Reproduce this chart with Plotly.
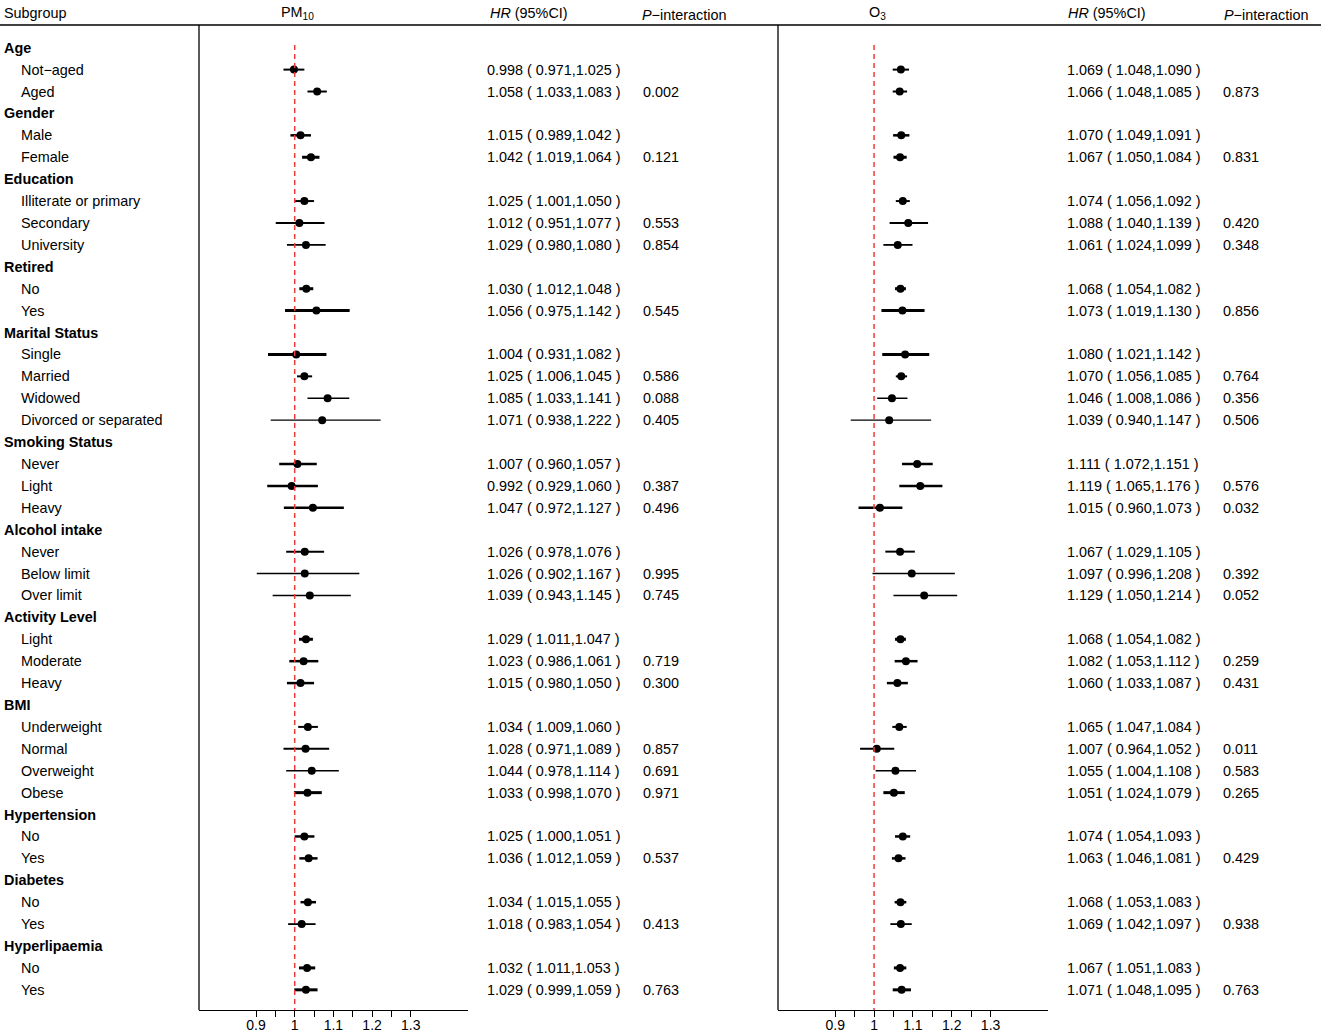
import plotly.graph_objects as go

# ---------------- data ----------------
subgroups = [
    "Age", "Not−aged", "Aged",
    "Gender", "Male", "Female",
    "Education", "Illiterate or primary", "Secondary", "University",
    "Retired", "No", "Yes",
    "Marital Status", "Single", "Married", "Widowed", "Divorced or separated",
    "Smoking Status", "Never", "Light", "Heavy",
    "Alcohol intake", "Never", "Below limit", "Over limit",
    "Activity Level", "Light", "Moderate", "Heavy",
    "BMI", "Underweight", "Normal", "Overweight", "Obese",
    "Hypertension", "No", "Yes",
    "Diabetes", "No", "Yes",
    "Hyperlipaemia", "No", "Yes",
]
is_group = [
    True, False, False,
    True, False, False,
    True, False, False, False,
    True, False, False,
    True, False, False, False, False,
    True, False, False, False,
    True, False, False, False,
    True, False, False, False,
    True, False, False, False, False,
    True, False, False,
    True, False, False,
    True, False, False,
]
N = None
pm10_hr = [N, 0.998, 1.058, N, 1.015, 1.042, N, 1.025, 1.012, 1.029, N, 1.030, 1.056,
           N, 1.004, 1.025, 1.085, 1.071, N, 1.007, 0.992, 1.047, N, 1.026, 1.026, 1.039,
           N, 1.029, 1.023, 1.015, N, 1.034, 1.028, 1.044, 1.033, N, 1.025, 1.036,
           N, 1.034, 1.018, N, 1.032, 1.029]
pm10_lo = [N, 0.971, 1.033, N, 0.989, 1.019, N, 1.001, 0.951, 0.980, N, 1.012, 0.975,
           N, 0.931, 1.006, 1.033, 0.938, N, 0.960, 0.929, 0.972, N, 0.978, 0.902, 0.943,
           N, 1.011, 0.986, 0.980, N, 1.009, 0.971, 0.978, 0.998, N, 1.000, 1.012,
           N, 1.015, 0.983, N, 1.011, 0.999]
pm10_hi = [N, 1.025, 1.083, N, 1.042, 1.064, N, 1.050, 1.077, 1.080, N, 1.048, 1.142,
           N, 1.082, 1.045, 1.141, 1.222, N, 1.057, 1.060, 1.127, N, 1.076, 1.167, 1.145,
           N, 1.047, 1.061, 1.050, N, 1.060, 1.089, 1.114, 1.070, N, 1.051, 1.059,
           N, 1.055, 1.054, N, 1.053, 1.059]
pm10_p = ["", "", "0.002", "", "", "0.121", "", "", "0.553", "0.854", "", "", "0.545",
          "", "", "0.586", "0.088", "0.405", "", "", "0.387", "0.496", "", "", "0.995", "0.745",
          "", "", "0.719", "0.300", "", "", "0.857", "0.691", "0.971", "", "", "0.537",
          "", "", "0.413", "", "", "0.763"]

o3_hr = [N, 1.069, 1.066, N, 1.070, 1.067, N, 1.074, 1.088, 1.061, N, 1.068, 1.073,
         N, 1.080, 1.070, 1.046, 1.039, N, 1.111, 1.119, 1.015, N, 1.067, 1.097, 1.129,
         N, 1.068, 1.082, 1.060, N, 1.065, 1.007, 1.055, 1.051, N, 1.074, 1.063,
         N, 1.068, 1.069, N, 1.067, 1.071]
o3_lo = [N, 1.048, 1.048, N, 1.049, 1.050, N, 1.056, 1.040, 1.024, N, 1.054, 1.019,
         N, 1.021, 1.056, 1.008, 0.940, N, 1.072, 1.065, 0.960, N, 1.029, 0.996, 1.050,
         N, 1.054, 1.053, 1.033, N, 1.047, 0.964, 1.004, 1.024, N, 1.054, 1.046,
         N, 1.053, 1.042, N, 1.051, 1.048]
o3_hi = [N, 1.090, 1.085, N, 1.091, 1.084, N, 1.092, 1.139, 1.099, N, 1.082, 1.130,
         N, 1.142, 1.085, 1.086, 1.147, N, 1.151, 1.176, 1.073, N, 1.105, 1.208, 1.214,
         N, 1.082, 1.112, 1.087, N, 1.084, 1.052, 1.108, 1.079, N, 1.093, 1.081,
         N, 1.083, 1.097, N, 1.083, 1.095]
o3_p = ["", "", "0.873", "", "", "0.831", "", "", "0.420", "0.348", "", "", "0.856",
        "", "", "0.764", "0.356", "0.506", "", "", "0.576", "0.032", "", "", "0.392", "0.052",
        "", "", "0.259", "0.431", "", "", "0.011", "0.583", "0.265", "", "", "0.429",
        "", "", "0.938", "", "", "0.763"]

major_ticks = [0.9, 1.0, 1.1, 1.2, 1.3]
major_labels = ["0.9", "1", "1.1", "1.2", "1.3"]
minor_ticks = [0.95, 1.05, 1.15, 1.25]

# ---------------- style ----------------
W, H = 1325, 1032
FONT = "Liberation Sans, Arial, sans-serif"
FS = 14.4
ROW0, ROWH = 47.7, 21.91     # pixel y of first row, row spacing
ci_lw = [0, 2, 2, 0, 2.5, 3, 0, 2, 1.8, 1.8, 0, 3, 3,
         0, 3, 2, 1.5, 1.2, 0, 2.5, 2.5, 2.5, 0, 2, 1.4, 1.5,
         0, 3, 2.5, 2.5, 0, 2, 2, 1.5, 3, 0, 2.5, 2.5,
         0, 2.5, 1.8, 0, 3, 3]
XR = [0.7527, 1.4478]


def px_x(p):   # pixel -> paper x
    return p / W


def px_y(p):   # pixel -> paper y
    return 1 - p / H


fig = go.Figure()

panels = [
    ("x", pm10_hr, pm10_lo, pm10_hi),
    ("x2", o3_hr, o3_lo, o3_hi),
]
for xa, hr, lo, hi in panels:
    for i in range(len(subgroups)):
        if hr[i] is None:
            continue
        fig.add_trace(go.Scatter(
            x=[lo[i], hi[i]], y=[i, i], mode="lines", xaxis=xa, yaxis="y",
            line=dict(color="black", width=ci_lw[i]), hoverinfo="skip", showlegend=False))
    xs = [hr[i] for i in range(len(subgroups)) if hr[i] is not None]
    ys = [i for i in range(len(subgroups)) if hr[i] is not None]
    fig.add_trace(go.Scatter(
        x=xs, y=ys, mode="markers", xaxis=xa, yaxis="y",
        marker=dict(color="black", size=8, symbol="circle"), showlegend=False))

annotations = []


def txt(x, y, s, bold=False, yref="y", anchor="left", size=FS):
    annotations.append(dict(
        x=x, y=y, xref="paper", yref=yref, text=("<b>%s</b>" % s) if bold else s,
        showarrow=False, xanchor=anchor, yanchor="middle",
        font=dict(family=FONT, size=size, color="black")))


# header row
hy = px_y(13)
txt(px_x(2), hy, "Subgroup", yref="paper")
txt(px_x(297), hy, "PM<sub>10</sub>", yref="paper", anchor="center")
txt(px_x(488), hy, "<i>HR</i> (95%CI)", yref="paper")
txt(px_x(640), px_y(15), "<i>P</i>−interaction", yref="paper")
txt(px_x(877), hy, "O<sub>3</sub>", yref="paper", anchor="center")
txt(px_x(1066), hy, "<i>HR</i> (95%CI)", yref="paper")
txt(px_x(1222), px_y(15), "<i>P</i>−interaction", yref="paper")

for i, name in enumerate(subgroups):
    if is_group[i]:
        txt(px_x(2), i, name, bold=True)
        continue
    txt(px_x(19), i, name)
    txt(px_x(485), i, "%.3f ( %.3f,%.3f )" % (pm10_hr[i], pm10_lo[i], pm10_hi[i]))
    if pm10_p[i]:
        txt(px_x(641), i, pm10_p[i])
    txt(px_x(1065), i, "%.3f ( %.3f,%.3f )" % (o3_hr[i], o3_lo[i], o3_hi[i]))
    if o3_p[i]:
        txt(px_x(1221), i, o3_p[i])

shapes = []
line_col = "black"
# top rule
shapes.append(dict(type="line", xref="paper", yref="paper", x0=px_x(0), x1=px_x(1321),
                   y0=px_y(25), y1=px_y(25), line=dict(color=line_col, width=1.5)))
# panel left borders
for xp in (199, 778):
    shapes.append(dict(type="line", xref="paper", yref="paper", x0=px_x(xp), x1=px_x(xp),
                       y0=px_y(25), y1=px_y(1010), line=dict(color=line_col, width=1.3)))
# reference lines at HR = 1
for xa in ("x", "x2"):
    shapes.append(dict(type="line", xref=xa, yref="paper", x0=1, x1=1,
                       y0=px_y(45), y1=px_y(1010),
                       line=dict(color="#F03A3A", width=1.5, dash="5px,4px")))

# y range so that row i sits at pixel ROW0 + i*ROWH
y_top = -ROW0 / ROWH
y_bot = (H - ROW0) / ROWH
axis_common = dict(
    range=XR, showgrid=False, zeroline=False, showline=True, linecolor="black", linewidth=1.3,
    ticks="outside", ticklen=6, tickwidth=1.3, tickcolor="black",
    tickmode="array", tickvals=major_ticks, ticktext=major_labels,
    ticklabelstandoff=-4,
    minor=dict(tickmode="array", tickvals=minor_ticks, ticks="outside", ticklen=6,
               tickwidth=1.3, tickcolor="black", showgrid=False),
    tickfont=dict(family=FONT, size=14, color="black"),
    anchor="free", position=px_y(1010), fixedrange=True,
)
fig.update_layout(
    width=W, height=H, margin=dict(l=0, r=0, t=0, b=0),
    paper_bgcolor="white", plot_bgcolor="rgba(0,0,0,0)",
    xaxis=dict(domain=[px_x(199), px_x(468)], **axis_common),
    xaxis2=dict(domain=[px_x(778), px_x(1048)], **axis_common),
    yaxis=dict(domain=[0, 1], range=[y_bot, y_top], visible=False, fixedrange=True),
    annotations=annotations, shapes=shapes, showlegend=False,
)
fig.write_html(
    "out.html",
    config={"displayModeBar": False},
    post_script="document.body.style.margin='0';document.body.style.overflow='hidden';",
)
